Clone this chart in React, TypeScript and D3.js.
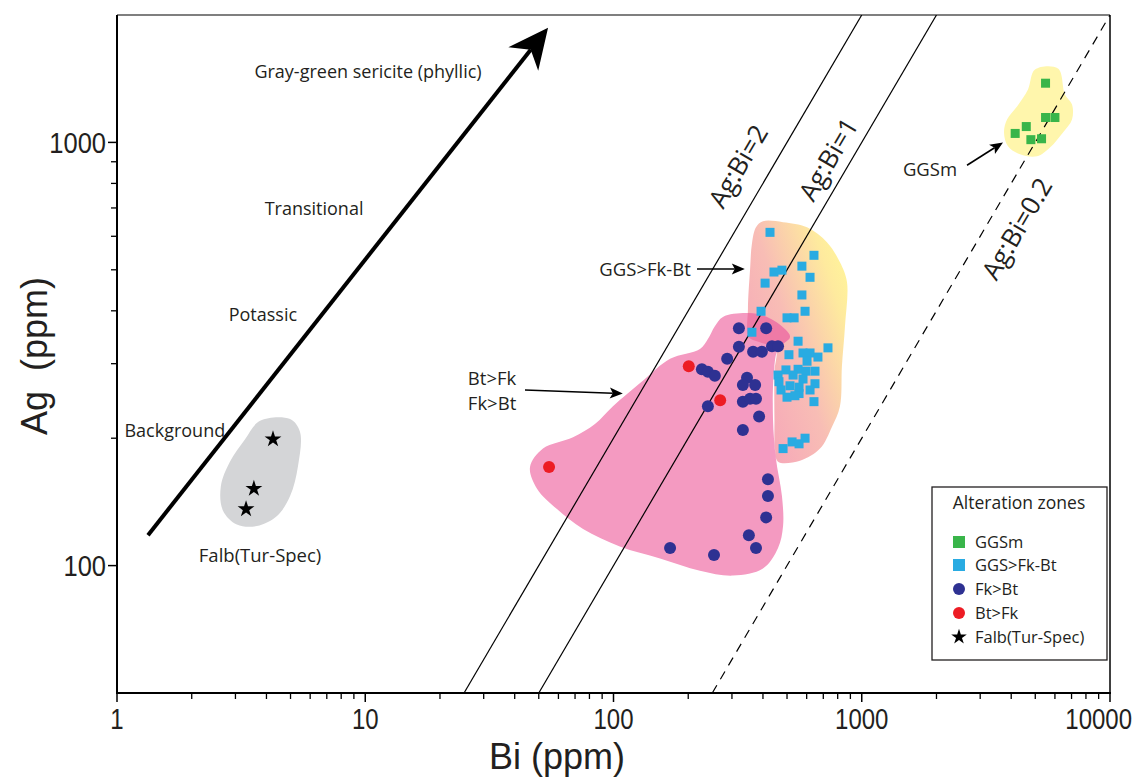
import React from 'react';
import * as d3 from 'd3';

// ---------- data (Bi ppm, Ag ppm) ----------
const ggsm: [number, number][] = [
  [5500, 1380], [5500, 1145], [6000, 1145], [4600, 1090], [4150, 1050], [4800, 1015], [5300, 1020],
];
const ggsFkBt: [number, number][] = [
  [427, 613], [642, 541], [574, 510], [443, 494], [477, 499], [619, 480], [408, 465], [574, 436],
  [591, 399], [393, 399], [361, 356], [500, 385], [534, 385], [554, 339], [731, 327], [509, 315],
  [580, 318], [619, 318], [666, 311], [602, 304], [554, 291], [596, 288], [648, 288], [460, 282],
  [529, 282], [580, 276], [464, 272], [514, 266], [648, 269], [473, 260], [619, 260], [559, 255],
  [500, 250], [538, 252], [642, 244], [524, 196], [559, 194], [591, 200], [482, 189], [495, 290],
  [559, 264],
];
const fkBt: [number, number][] = [
  [320, 364], [412, 364], [320, 329], [365, 320], [396, 320], [435, 330], [460, 330], [287, 308],
  [227, 291], [240, 287], [256, 281], [345, 278], [332, 267], [372, 267], [240, 238], [332, 244],
  [355, 248], [375, 248], [386, 225], [332, 209], [419, 160], [419, 146], [412, 130], [351, 118],
  [375, 110], [169, 110], [254, 106],
];
const btFk: [number, number][] = [[201, 296], [269, 246], [55, 171]];
const falb: [number, number][] = [[4.25, 199], [3.56, 152], [3.31, 136]];

// field outlines (Bi, Ag)
const hullFalb: [number, number][] = [
  [3.77, 220], [4.98, 222], [5.46, 207], [5.36, 172], [4.98, 146], [4.41, 131], [3.66, 124],
  [3.04, 125], [2.67, 135], [2.62, 154], [2.85, 176], [3.28, 199],
];
const hullPotassic: [number, number][] = [
  [276, 387], [348, 395], [415, 387], [491, 362], [514, 347], [460, 325], [443, 288], [439, 222],
  [451, 179], [477, 146], [482, 124], [460, 110], [400, 98.4], [303, 94.7], [223, 97.3], [154, 104],
  [106, 111], [75.4, 122], [59.2, 136], [49.2, 152], [46.1, 171], [52, 189], [68.7, 201], [84.2, 216],
  [99.5, 238], [131, 273], [169, 308], [223, 325], [240, 343], [256, 368],
];
const hullGGS: [number, number][] = [
  [400, 651], [482, 648], [602, 630], [724, 581], [817, 521], [872, 468], [856, 368], [832, 296],
  [817, 238], [759, 213], [679, 189], [564, 177], [460, 176], [447, 189], [445, 222], [445, 288],
  [450, 325], [389, 337], [351, 347], [348, 404], [355, 502], [361, 575], [375, 630],
];
const hullGGSm: [number, number][] = [
  [4989, 1486], [6173, 1494], [6586, 1298], [7030, 1229], [7030, 1133], [6467, 1056], [5731, 973],
  [5082, 927], [4340, 937], [3883, 979], [3741, 1056], [3848, 1133], [4222, 1216], [4674, 1334],
];

// Ag:Bi reference lines
const ratios = [2, 1, 0.2];
const ratioLabels = ['Ag:Bi=2', 'Ag:Bi=1', 'Ag:Bi=0.2'];
const ratioLabelPos: [number, number][] = [[318, 878], [735, 912], [4222, 625]];

// axes
const xDomain: [number, number] = [1, 10000];
const yDomain: [number, number] = [50, 2000];
const xMajor = [1, 10, 100, 1000, 10000];
const yMajor = [100, 1000];
const yMinor = [200, 300, 400, 500, 600, 700, 800, 900];

// annotations
const zoneLabels = ['Gray-green sericite (phyllic)', 'Transitional', 'Potassic', 'Background'];
const zoneLabelPos: [number, number][] = [[10.26, 1471], [6.22, 699], [3.87, 391], [1.71, 208]];
const bigArrow: [number, number][] = [[1.333, 118], [54.5, 1867]];
const fieldLabels = ['Falb(Tur-Spec)', 'GGSm', 'GGS>Fk-Bt'];
const fieldLabelPos: [number, number][] = [[3.77, 105.6], [1883, 864], [134, 502]];
const btLabels = ['Bt>Fk', 'Fk>Bt'];
const btLabelPos: [number, number][] = [[25.9, 276], [25.9, 241]];
const smallArrows: [number, number][][] = [
  [[2655, 883], [3707, 1000]],
  [[217, 502], [338, 502]],
  [[44.0, 260], [109, 255]],
];
const legendTitle = 'Alteration zones';
const legendLabels = ['GGSm', 'GGS>Fk-Bt', 'Fk>Bt', 'Bt>Fk', 'Falb(Tur-Spec)'];

// ---------- styles ----------
const GREEN = '#39b54a';
const CYAN = '#29abe2';
const NAVY = '#2e3192';
const RED = '#ed1c24';
const PINK = '#f49ac1';
const PINK_DARK = '#ef7aa6';
const GRAY = '#d4d5d7';
const YELLOW = '#fff6ac';
const INK = '#231f20';
const TXT = "'Open Sans', 'Noto Sans', sans-serif";
const NUM = "'Liberation Sans', Arial, sans-serif";
const AXT = "'Liberation Sans', Arial, sans-serif";

function arrowHead(p0: [number, number], p1: [number, number], len: number, hw: number, notch: number) {
  const dx = p1[0] - p0[0], dy = p1[1] - p0[1];
  const L = Math.hypot(dx, dy);
  const ux = dx / L, uy = dy / L;
  const nx = -uy, ny = ux;
  const T = p1;
  const bx = T[0] - len * ux, by = T[1] - len * uy;
  const Lw = [bx + hw * nx, by + hw * ny];
  const Rw = [bx - hw * nx, by - hw * ny];
  const N = [T[0] - (len - notch) * ux, T[1] - (len - notch) * uy];
  return {
    head: `M${T[0]},${T[1]}L${Lw[0]},${Lw[1]}L${N[0]},${N[1]}L${Rw[0]},${Rw[1]}Z`,
    shaftEnd: N as [number, number],
  };
}

export default function App() {
  const left = 117, right = 1110, top = 15, bottom = 693;
  const x = d3.scaleLog().domain(xDomain).range([left, right]);
  const y = d3.scaleLog().domain(yDomain).range([bottom, top]);
  const P = (d: [number, number]): [number, number] => [x(d[0]), y(d[1])];

  const hull = (pts: [number, number][]) =>
    d3.line<[number, number]>()
      .x((d) => x(d[0]))
      .y((d) => y(d[1]))
      .curve(d3.curveCatmullRomClosed.alpha(0.5))(pts) || '';

  const xMinor: number[] = [];
  for (let e = 0; e < 4; e++) for (let k = 2; k <= 9; k++) xMinor.push(k * Math.pow(10, e));

  const angle = (Math.atan2(y(1000) - y(100), x(1000) - x(100)) * 180) / Math.PI;

  const star = d3.symbol().type(d3.symbolStar).size(88)() || '';
  const starLegend = d3.symbol().type(d3.symbolStar).size(75)() || '';

  const big = arrowHead(P(bigArrow[0]), P(bigArrow[1]), 40, 19, 12);
  const bigStart = P(bigArrow[0]);

  const fmt = (v: number) => String(v);
  const NUM_FS = 30;
  const NUM_SX = 0.8;
  const digitW = NUM_FS * 0.556 * NUM_SX;

  const ggsPath = hull(hullGGS);
  const potPath = hull(hullPotassic);

  return (
    <svg width={1133} height={779} style={{ position: 'absolute', left: 0, top: 0, background: '#fff' }}>
      <defs>
        <linearGradient id="ggsGrad" x1="0" y1="0.95" x2="1" y2="0.15">
          <stop offset="0" stopColor="#f5a0ba" />
          <stop offset="0.5" stopColor="#f8bdb5" />
          <stop offset="0.85" stopColor="#feea9e" />
          <stop offset="1" stopColor="#fff59a" />
        </linearGradient>
        <clipPath id="plotClip">
          <rect x={left} y={top} width={right - left} height={bottom - top} />
        </clipPath>
        <clipPath id="ggsClip">
          <path d={ggsPath} />
        </clipPath>
      </defs>
      <rect x={0} y={0} width={1133} height={779} fill="#fff" />

      {/* fields */}
      <g clipPath="url(#plotClip)">
        <path d={hull(hullFalb)} fill={GRAY} />
        <path d={hull(hullGGSm)} fill={YELLOW} />
        <path d={ggsPath} fill="url(#ggsGrad)" />
        <path d={potPath} fill={PINK} />
        <path d={potPath} fill={PINK_DARK} clipPath="url(#ggsClip)" />
      </g>

      {/* ratio lines */}
      <g clipPath="url(#plotClip)">
        {ratios.map((r, i) => (
          <line
            key={i}
            x1={x(yDomain[0] / r)}
            y1={y(yDomain[0])}
            x2={x(yDomain[1] / r)}
            y2={y(yDomain[1])}
            stroke="#000"
            strokeWidth={1.2}
            strokeDasharray={r < 1 ? '9,7' : undefined}
          />
        ))}
      </g>
      {ratioLabels.map((t, i) => {
        const [px, py] = P(ratioLabelPos[i]);
        return (
          <text key={i} transform={`translate(${px},${py}) rotate(${angle})`} textAnchor="middle" dy="0.35em"
            fontFamily={TXT} fontSize={26} fill={INK}>{t}</text>
        );
      })}

      {/* points */}
      {ggsm.map((d, i) => (
        <rect key={'g' + i} x={x(d[0]) - 4.5} y={y(d[1]) - 4.5} width={9} height={9} fill={GREEN} />
      ))}
      {ggsFkBt.map((d, i) => (
        <rect key={'c' + i} x={x(d[0]) - 4.5} y={y(d[1]) - 4.5} width={9} height={9} fill={CYAN} />
      ))}
      {fkBt.map((d, i) => (
        <circle key={'n' + i} cx={x(d[0])} cy={y(d[1])} r={6} fill={NAVY} />
      ))}
      {btFk.map((d, i) => (
        <circle key={'r' + i} cx={x(d[0])} cy={y(d[1])} r={6} fill={RED} />
      ))}
      {falb.map((d, i) => (
        <path key={'s' + i} d={star} transform={`translate(${x(d[0])},${y(d[1])})`} fill="#000" />
      ))}

      {/* big arrow */}
      <line x1={bigStart[0]} y1={bigStart[1]} x2={big.shaftEnd[0]} y2={big.shaftEnd[1]} stroke="#000" strokeWidth={4} />
      <path d={big.head} fill="#000" />

      {/* small arrows */}
      {smallArrows.map((a, i) => {
        const p0 = P(a[0]), p1 = P(a[1]);
        const h = arrowHead(p0, p1, 13, 5.5, 3);
        return (
          <g key={'a' + i}>
            <line x1={p0[0]} y1={p0[1]} x2={h.shaftEnd[0]} y2={h.shaftEnd[1]} stroke="#000" strokeWidth={1.6} />
            <path d={h.head} fill="#000" />
          </g>
        );
      })}

      {/* labels */}
      {zoneLabels.map((t, i) => {
        const [px, py] = P(zoneLabelPos[i]);
        return <text key={'z' + i} x={px} y={py} dy="0.35em" textAnchor="middle" fontFamily={TXT} fontSize={18} fill={INK}>{t}</text>;
      })}
      {fieldLabels.map((t, i) => {
        const [px, py] = P(fieldLabelPos[i]);
        return <text key={'f' + i} x={px} y={py} dy="0.35em" textAnchor="middle" fontFamily={TXT} fontSize={18.5} fill={INK}>{t}</text>;
      })}
      {btLabels.map((t, i) => {
        const [px, py] = P(btLabelPos[i]);
        return <text key={'b' + i} x={px} y={py} dy="0.35em" textAnchor="start" fontFamily={TXT} fontSize={18.5} fill={INK}>{t}</text>;
      })}

      {/* frame */}
      <line x1={left} y1={top} x2={right} y2={top} stroke="#000" strokeWidth={1.2} />
      <line x1={right} y1={top} x2={right} y2={bottom} stroke="#000" strokeWidth={1.5} />
      <line x1={left} y1={top} x2={left} y2={bottom + 1} stroke="#000" strokeWidth={2} />
      <line x1={left - 1} y1={bottom} x2={right + 1} y2={bottom} stroke="#000" strokeWidth={2} />

      {/* x ticks */}
      {xMajor.map((v) => {
        const half = (fmt(v).length * digitW) / 2;
        const cx = Math.min(x(v), 1132 - half);
        return (
          <g key={'xm' + v}>
            <line x1={x(v)} x2={x(v)} y1={bottom} y2={bottom + 9} stroke="#000" strokeWidth={1.5} />
            <text transform={`translate(${cx},729) scale(${NUM_SX},1)`} textAnchor="middle" fontFamily={NUM}
              fontSize={NUM_FS} fill={INK}>{fmt(v)}</text>
          </g>
        );
      })}
      {xMinor.map((v) => (
        <line key={'xn' + v} x1={x(v)} x2={x(v)} y1={bottom} y2={bottom + 6} stroke="#000" strokeWidth={1.3} />
      ))}
      {/* y ticks */}
      {yMajor.map((v) => (
        <g key={'ym' + v}>
          <line x1={left - 9} x2={left} y1={y(v)} y2={y(v)} stroke="#000" strokeWidth={1.5} />
          <text transform={`translate(106,${y(v)}) scale(${NUM_SX + 0.05},1)`} dy="0.36em" textAnchor="end"
            fontFamily={NUM} fontSize={NUM_FS} fill={INK}>{fmt(v)}</text>
        </g>
      ))}
      {yMinor.map((v) => (
        <line key={'yn' + v} x1={left - 6} x2={left} y1={y(v)} y2={y(v)} stroke="#000" strokeWidth={1.3} />
      ))}

      {/* axis titles */}
      <text x={557} y={769} textAnchor="middle" fontFamily={AXT} fontSize={36} fill={INK}>Bi (ppm)</text>
      <text transform={`translate(47,356) rotate(-90)`} textAnchor="middle" fontFamily={AXT} fontSize={36} fill={INK}
        style={{ whiteSpace: 'pre' }}>{'Ag  (ppm)'}</text>

      {/* legend */}
      <rect x={932} y={487} width={175} height={173} fill="#fff" stroke="#231f20" strokeWidth={1.3} />
      <text x={1019} y={503} dy="0.35em" textAnchor="middle" fontFamily={TXT} fontSize={17.5} fill={INK}>{legendTitle}</text>
      {legendLabels.map((t, i) => {
        const ly = [542, 565, 589, 613, 637][i];
        let mark: React.ReactNode;
        if (i === 0) mark = <rect x={953} y={ly - 6} width={12} height={12} fill={GREEN} />;
        else if (i === 1) mark = <rect x={953} y={ly - 6} width={12} height={12} fill={CYAN} />;
        else if (i === 2) mark = <circle cx={959} cy={ly} r={6} fill={NAVY} />;
        else if (i === 3) mark = <circle cx={959} cy={ly} r={6} fill={RED} />;
        else mark = <path d={starLegend} transform={`translate(959,${ly})`} fill="#000" />;
        return (
          <g key={'l' + i}>
            {mark}
            <text x={975} y={ly} dy="0.35em" fontFamily={TXT} fontSize={16.5} fill={INK}>{t}</text>
          </g>
        );
      })}
    </svg>
  );
}
